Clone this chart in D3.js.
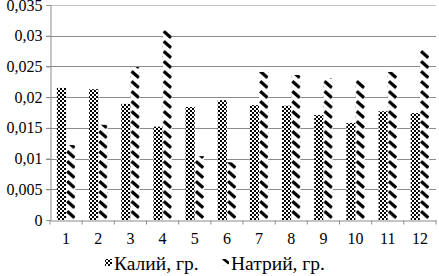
<!DOCTYPE html>
<html><head><meta charset="utf-8">
<script src="https://cdn.jsdelivr.net/npm/d3@7"></script>
</head><body style="margin:0">
<script>
const categories = ["1","2","3","4","5","6","7","8","9","10","11","12"];
const kaliy  = [0.0215,0.0213,0.0189,0.0152,0.0184,0.0195,0.0187,0.0186,0.0171,0.0158,0.0177,0.0174];
const natriy = [0.0122,0.0155,0.0249,0.0309,0.0104,0.0094,0.0241,0.0236,0.0231,0.0228,0.0241,0.0277];
const seriesNames = ["Калий, гр.","Натрий, гр."];
const yTicks = [0,0.005,0.01,0.015,0.02,0.025,0.03,0.035];

const W=439,H=276, m={l:50,r:3,t:5,b:56};
const FONT="Liberation Serif";
const svg=d3.select("body").append("svg").attr("width",W).attr("height",H).style("display","block")
  .attr("font-family",FONT).style("font-family",FONT);
const defs=svg.append("defs");
// checkerboard
const pk=defs.append("pattern").attr("id","chk").attr("patternUnits","userSpaceOnUse").attr("width",4).attr("height",4);
pk.append("rect").attr("width",4).attr("height",4).attr("fill","#fff");
pk.append("rect").attr("width",2).attr("height",2).attr("fill","#000");
pk.append("rect").attr("x",2).attr("y",2).attr("width",2).attr("height",2).attr("fill","#000");

const x=d3.scaleBand().domain(categories).range([m.l,W-m.r]).paddingInner(0).paddingOuter(0);
const y=d3.scaleLinear().domain([0,0.035]).range([H-m.b,m.t]);
const fmt=d=>d===0?"0":String(+d.toFixed(3)).replace(".",",");

// gridlines
svg.append("g").selectAll("line").data(yTicks.slice(1)).join("line")
  .attr("x1",m.l-4).attr("x2",W-m.r).attr("y1",d=>Math.round(y(d))+0.5).attr("y2",d=>Math.round(y(d))+0.5)
  .attr("stroke",d=>d===0.035?"#c4c4c4":"#8c8c8c").attr("stroke-width",1.2);

// y axis
const ya=svg.append("g").attr("transform",`translate(${m.l+0.5},0)`).call(d3.axisLeft(y).tickValues(yTicks).tickFormat(fmt).tickSize(4).tickPadding(4));
ya.attr("font-family",FONT).attr("font-size",16);
ya.select(".domain").attr("stroke","#8c8c8c");
ya.selectAll(".tick line").attr("stroke","#8c8c8c");
ya.selectAll("text").attr("font-family",FONT).style("font-family",FONT).attr("font-size",16).attr("fill","#000");

// bars
const bw=x.bandwidth()/3.5;
const gBars=svg.append("g");
categories.forEach((c,i)=>{
  const bx0=x(c)+0.75*bw, bx1=bx0+bw;
  gBars.append("rect").attr("x",bx0).attr("y",y(kaliy[i])).attr("width",bw).attr("height",y(0)-y(kaliy[i])).attr("fill","url(#chk)");
  const pid="nat"+i;
  const p=defs.append("pattern").attr("id",pid).attr("patternUnits","userSpaceOnUse")
    .attr("x",bx1).attr("y",y(0)).attr("width",bw).attr("height",10);
  p.append("rect").attr("width",bw).attr("height",10).attr("fill","#fff");
  p.append("path").attr("d",`M${bw*0.12},1.2 L${bw*0.92},7.8`).attr("stroke","#000").attr("stroke-width",3.2).attr("stroke-linecap","butt");
  gBars.append("rect").attr("x",bx1).attr("y",y(natriy[i])).attr("width",bw).attr("height",y(0)-y(natriy[i])).attr("fill",`url(#${pid})`);
});

// x axis
const xa=svg.append("g").attr("transform",`translate(0,${Math.round(y(0))+0.5})`).call(d3.axisBottom(x).tickSize(0).tickPadding(12));
xa.attr("font-family",FONT).attr("font-size",16);
xa.select(".domain").attr("stroke","#8c8c8c").attr("stroke-width",1.2);
xa.selectAll("text").attr("font-family",FONT).style("font-family",FONT).attr("font-size",16).attr("fill","#000");
xa.append("g").selectAll("line").data(d3.range(categories.length+1)).join("line")
  .attr("x1",i=>m.l+i*x.step()).attr("x2",i=>m.l+i*x.step()).attr("y1",0).attr("y2",4).attr("stroke","#8c8c8c");

// legend
const leg=svg.append("g").attr("font-family",FONT);
const lp=defs.append("pattern").attr("id","natleg").attr("patternUnits","userSpaceOnUse").attr("x",222).attr("y",257).attr("width",8).attr("height",8);
lp.append("rect").attr("width",8).attr("height",8).attr("fill","#fff");
lp.append("path").attr("d","M1,1.5 L7,6.5").attr("stroke","#000").attr("stroke-width",2.8);
const legItems=[{x:105,fill:"url(#chk)",name:seriesNames[0]},{x:222,fill:"url(#natleg)",name:seriesNames[1]}];
legItems.forEach(d=>{
  leg.append("rect").attr("x",d.x).attr("y",259).attr("width",7).attr("height",7).attr("fill",d.fill);
  leg.append("text").attr("x",d.x+9).attr("y",270).attr("font-family",FONT).style("font-family",FONT).attr("font-size",19.5).attr("fill","#000").text(d.name);
});
</script>
</body></html>
